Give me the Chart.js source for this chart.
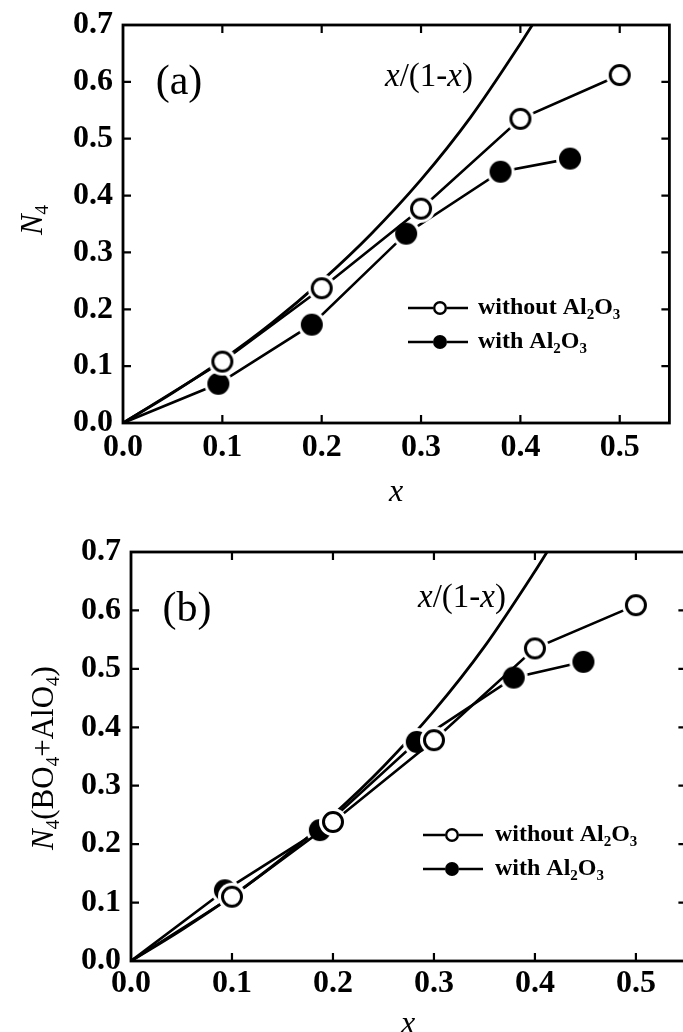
<!DOCTYPE html>
<html><head><meta charset="utf-8">
<script src="https://cdn.jsdelivr.net/npm/chart.js@4/dist/chart.umd.min.js"></script>
<style>
html,body{margin:0;padding:0;background:#fff;overflow:hidden;width:683px;height:1032px;}
#wa{position:absolute;left:0;top:0;width:683px;height:510px;}
#wb{position:absolute;left:0;top:510px;width:700px;height:522px;}
canvas{display:block;}
</style></head><body>
<div id="wa"><canvas id="ca" width="683" height="510"></canvas></div>
<div id="wb"><canvas id="cb" width="700" height="522"></canvas></div>
<script>
// ---- data ----
const xTickValues = [0, 0.1, 0.2, 0.3, 0.4, 0.5];
const yTickValues = [0, 0.1, 0.2, 0.3, 0.4, 0.5, 0.6, 0.7];
const curveX = [0, 0.05, 0.10, 0.15, 0.20, 0.25, 0.30, 0.35, 0.40, 0.412];
const curveY = [0, 0.053, 0.111, 0.176, 0.25, 0.333, 0.428, 0.538, 0.667, 0.70];
const aWithoutX = [0, 0.1, 0.2, 0.3, 0.4, 0.5];
const aWithoutY = [0, 0.108, 0.237, 0.377, 0.535, 0.612];
const aWithX = [0, 0.096, 0.19, 0.285, 0.38, 0.45];
const aWithY = [0, 0.069, 0.173, 0.333, 0.442, 0.465];
const bWithoutX = [0, 0.1, 0.2, 0.3, 0.4, 0.5];
const bWithoutY = [0, 0.11, 0.238, 0.378, 0.535, 0.609];
const bWithX = [0, 0.093, 0.187, 0.283, 0.379, 0.448];
const bWithY = [0, 0.121, 0.224, 0.375, 0.485, 0.512];
// ---- text ----
const legendWithout = [{t:'without Al'},{t:'2',sub:true},{t:'O'},{t:'3',sub:true}];
const legendWith = [{t:'with Al'},{t:'2',sub:true},{t:'O'},{t:'3',sub:true}];
const curveLabel = [{t:'x',i:true},{t:'/(1-'},{t:'x',i:true},{t:')'}];
const yTitleA = [{t:'N',i:true},{t:'4',sub:true}];
const yTitleB = [{t:'N',i:true},{t:'4',sub:true},{t:'(BO'},{t:'4',sub:true},{t:'+AlO'},{t:'4',sub:true},{t:')'}];
const xTitle = [{t:'x',i:true}];

const FONT = '"Liberation Serif", "Times New Roman", serif';
const pts = (xs, ys) => xs.map((x, i) => ({x: x, y: ys[i]}));

function markerImg(r, filled, gap, lw) {
  const size = Math.ceil(2 * (r + gap) + 2);
  const c = document.createElement('canvas');
  c.width = c.height = size;
  const g = c.getContext('2d');
  const m = size / 2;
  g.fillStyle = '#fff';
  g.beginPath(); g.arc(m, m, r + gap, 0, 2 * Math.PI); g.fill();
  g.beginPath();
  if (filled) { g.arc(m, m, r, 0, 2 * Math.PI); g.fillStyle = '#000'; g.fill(); }
  else { g.arc(m, m, r - lw / 2, 0, 2 * Math.PI); g.fillStyle = '#fff'; g.fill(); g.lineWidth = lw; g.strokeStyle = '#000'; g.stroke(); }
  return c;
}
const openBig = markerImg(11, false, 3, 3), fillBig = markerImg(11, true, 3, 3);
const openSmall = markerImg(7, false, 0, 2.4), fillSmall = markerImg(7, true, 0, 2.4);

function partFont(p, size, weight) {
  return (p.i ? 'italic ' : '') + weight + ' ' + (p.sub ? Math.round(size * 0.62) : size) + 'px ' + FONT;
}
function drawParts(ctx, parts, x, y, size, weight, align) {
  let w = 0;
  parts.forEach(p => { ctx.font = partFont(p, size, weight); w += ctx.measureText(p.t).width; });
  let cx = align === 'center' ? x - w / 2 : x;
  ctx.fillStyle = '#000';
  ctx.textBaseline = 'middle';
  ctx.textAlign = 'left';
  parts.forEach(p => {
    ctx.font = partFont(p, size, weight);
    ctx.fillText(p.t, cx, p.sub ? y + size * 0.3 : y);
    cx += ctx.measureText(p.t).width;
  });
}

const decor = {
  id: 'decor',
  afterDraw(chart, args, o) {
    const ctx = chart.ctx, a = chart.chartArea;
    const xs = chart.scales.x, ys = chart.scales.y;
    ctx.save();
    ctx.strokeStyle = '#000';
    ctx.lineWidth = 2.8;
    ctx.strokeRect(a.left, a.top, a.right - a.left, a.bottom - a.top);
    ctx.lineWidth = 2.2;
    ctx.beginPath();
    xTickValues.forEach(v => {
      if (v === 0) return;
      const px = xs.getPixelForValue(v);
      ctx.moveTo(px, a.bottom); ctx.lineTo(px, a.bottom - 8);
      ctx.moveTo(px, a.top); ctx.lineTo(px, a.top + 8);
    });
    yTickValues.forEach(v => {
      if (v === 0 || v === 0.7) return;
      const py = ys.getPixelForValue(v);
      ctx.moveTo(a.left, py); ctx.lineTo(a.left + 8, py);
      ctx.moveTo(a.right, py); ctx.lineTo(a.right - 8, py);
    });
    ctx.stroke();
    // panel label and curve label
    drawParts(ctx, [{t: o.panel}], o.panelPos[0], o.panelPos[1], 42, 'normal', 'center');
    drawParts(ctx, curveLabel, o.curvePos[0], o.curvePos[1], 33, 'normal', 'center');
    // legend
    const L = o.legend;
    [[openSmall, legendWithout], [fillSmall, legendWith]].forEach((row, i) => {
      const y = L.ys[i];
      ctx.lineWidth = 2.6;
      ctx.beginPath(); ctx.moveTo(L.x1, y); ctx.lineTo(L.x2, y); ctx.stroke();
      ctx.drawImage(row[0], L.cx - row[0].width / 2, y - row[0].height / 2);
      drawParts(ctx, row[1], L.tx, y, 24, 'bold', 'left');
    });
    // axis titles
    drawParts(ctx, xTitle, o.xTitlePos[0], o.xTitlePos[1], 32, 'normal', 'center');
    ctx.translate(o.yTitlePos[0], o.yTitlePos[1]);
    ctx.rotate(-Math.PI / 2);
    drawParts(ctx, o.yTitle, 0, 0, 31, 'normal', 'center');
    ctx.restore();
  }
};

function makeChart(id, cfg) {
  const tickFont = {family: FONT, size: 32, weight: 'bold'};
  return new Chart(document.getElementById(id), {
    type: 'line',
    data: {
      datasets: [
        {data: pts(curveX, curveY), borderColor: '#000', borderWidth: 2.8, pointRadius: 0,
         cubicInterpolationMode: 'monotone', order: 3},
        {data: pts(cfg.withX, cfg.withY), borderColor: '#000', borderWidth: 2.6,
         pointStyle: fillBig, pointRadius: c => c.dataIndex === 0 ? 0 : 11, order: 2},
        {data: pts(cfg.withoutX, cfg.withoutY), borderColor: '#000', borderWidth: 2.6,
         pointStyle: openBig, pointRadius: c => c.dataIndex === 0 ? 0 : 11, order: 1}
      ]
    },
    options: {
      responsive: false,
      animation: false,
      events: [],
      devicePixelRatio: 1,
      layout: {padding: cfg.padding},
      plugins: {legend: {display: false}, tooltip: {enabled: false}, decor: cfg.decor},
      scales: {
        x: {
          type: 'linear', min: 0, max: 0.55,
          grid: {display: false, drawTicks: false}, border: {display: false},
          afterBuildTicks: s => { s.ticks = xTickValues.map(v => ({value: v})); },
          afterFit: s => { s.height = cfg.xHeight; s.paddingLeft = 0; s.paddingRight = 0; },
          ticks: {font: tickFont, color: '#000', padding: cfg.xPad, maxRotation: 0, autoSkip: false,
                  callback: v => v.toFixed(1)}
        },
        y: {
          type: 'linear', min: 0, max: 0.7,
          grid: {display: false, drawTicks: false}, border: {display: false},
          afterBuildTicks: s => { s.ticks = yTickValues.map(v => ({value: v})); },
          afterFit: s => { s.width = cfg.yWidth; s.paddingTop = 0; s.paddingBottom = 0; },
          ticks: {font: tickFont, color: '#000', padding: cfg.yPad, autoSkip: false,
                  callback: v => v.toFixed(1)}
        }
      }
    },
    plugins: [decor]
  });
}

makeChart('ca', {
  withX: aWithX, withY: aWithY, withoutX: aWithoutX, withoutY: aWithoutY,
  padding: {left: 0, top: 25, right: 11, bottom: 0},
  xHeight: 87, yWidth: 123, xPad: 6, yPad: 10,
  decor: {panel: '(a)', panelPos: [179, 83], curvePos: [429, 77],
          legend: {x1: 408, x2: 468, cx: 440, ys: [308, 342], tx: 478},
          xTitlePos: [396, 493], yTitlePos: [34, 220], yTitle: yTitleA}
});
makeChart('cb', {
  withX: bWithX, withY: bWithY, withoutX: bWithoutX, withoutY: bWithoutY,
  padding: {left: 0, top: 42, right: 13, bottom: 0},
  xHeight: 71, yWidth: 131, xPad: 4, yPad: 10,
  decor: {panel: '(b)', panelPos: [187, 100], curvePos: [462, 88],
          legend: {x1: 423, x2: 483, cx: 452, ys: [325, 359], tx: 495},
          xTitlePos: [408, 515], yTitlePos: [45, 248], yTitle: yTitleB}
});
</script>
</body></html>
